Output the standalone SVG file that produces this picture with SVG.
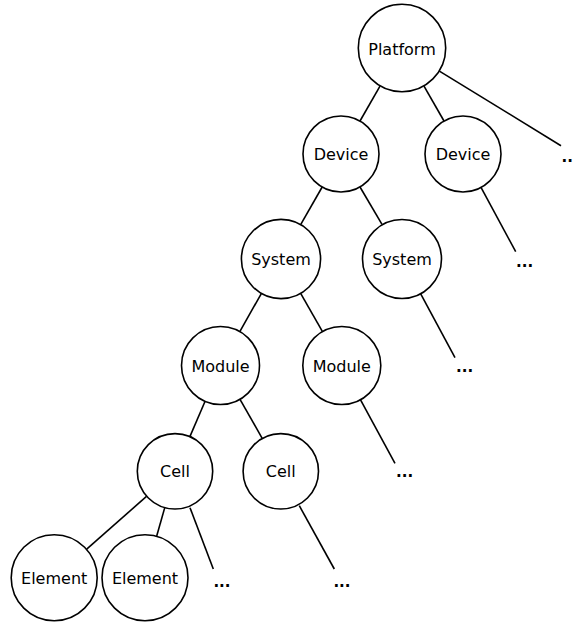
<svg xmlns="http://www.w3.org/2000/svg" width="573" height="623" viewBox="0 0 573 623">
<style>
.n circle{fill:#fff;stroke:#000;stroke-width:1.6}
.n text{font-family:"DejaVu Sans",sans-serif;font-size:16px;text-anchor:middle;fill:#000}
.e text{font-family:"DejaVu Sans",sans-serif;font-size:15px;font-weight:bold;fill:#000}
#edges line{stroke:#000;stroke-width:1.6}
</style>
<rect width="573" height="623" fill="#fff"/>
<g id="edges">
<line x1="380" y1="86.2" x2="360" y2="121"/>
<line x1="424" y1="86.2" x2="444" y2="121"/>
<line x1="439.4" y1="71.1" x2="561" y2="145.7"/>
<line x1="322.2" y1="187" x2="300.8" y2="224.3"/>
<line x1="360" y1="187" x2="382" y2="224.4"/>
<line x1="481" y1="187.4" x2="515.7" y2="251.7"/>
<line x1="261.2" y1="293.8" x2="239.8" y2="331.6"/>
<line x1="300.8" y1="293.7" x2="322.5" y2="331.6"/>
<line x1="420.7" y1="293.8" x2="455" y2="357.7"/>
<line x1="205.1" y1="401.3" x2="190" y2="436.4"/>
<line x1="240" y1="399.4" x2="262.2" y2="438.3"/>
<line x1="360.4" y1="399.7" x2="395" y2="463.3"/>
<line x1="146.5" y1="496.4" x2="86.7" y2="549.1"/>
<line x1="164.7" y1="507.9" x2="156.7" y2="536"/>
<line x1="190" y1="507.7" x2="213.3" y2="569"/>
<line x1="299.3" y1="505.7" x2="334.3" y2="569"/>
</g>
<g id="platform" class="n"><circle cx="402" cy="48" r="43.7"/><text x="402" y="54.5">Platform</text></g>
<g id="device1" class="n"><circle cx="341" cy="154" r="38"/><text x="341" y="160">Device</text></g>
<g id="device2" class="n"><circle cx="463" cy="154" r="38"/><text x="463" y="160">Device</text></g>
<g id="system1" class="n"><circle cx="281" cy="259" r="39.6"/><text x="281" y="265">System</text></g>
<g id="system2" class="n"><circle cx="402" cy="259" r="39.5"/><text x="402" y="265">System</text></g>
<g id="module1" class="n"><circle cx="220.5" cy="365.5" r="39"/><text x="220.5" y="371.5">Module</text></g>
<g id="module2" class="n"><circle cx="341.8" cy="365.5" r="39"/><text x="341.8" y="371.5">Module</text></g>
<g id="cell1" class="n"><circle cx="175" cy="471.3" r="37.7"/><text x="175" y="477.3">Cell</text></g>
<g id="cell2" class="n"><circle cx="280.8" cy="471.3" r="37.7"/><text x="280.8" y="477.3">Cell</text></g>
<g id="element1" class="n"><circle cx="54.2" cy="577.7" r="43"/><text x="54.2" y="583.7">Element</text></g>
<g id="element2" class="n"><circle cx="145" cy="577.7" r="43"/><text x="145" y="583.7">Element</text></g>
<g id="more-platform" class="e"><text x="561.5" y="161.7">..</text></g>
<g id="more-device" class="e"><text x="516" y="267.3">...</text></g>
<g id="more-system" class="e"><text x="456" y="372.3">...</text></g>
<g id="more-module" class="e"><text x="396" y="477.3">...</text></g>
<g id="more-cell1" class="e"><text x="213.4" y="586.8">...</text></g>
<g id="more-cell2" class="e"><text x="333.4" y="586.8">...</text></g>
</svg>
